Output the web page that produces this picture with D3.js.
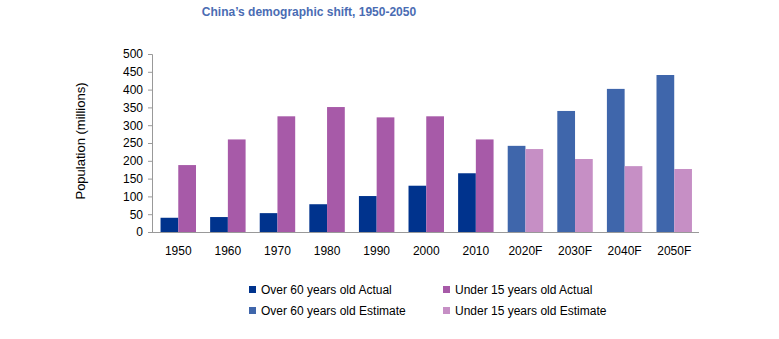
<meta charset="utf-8">
<head>
<script src="https://d3js.org/d3.v7.min.js"></script>
<style>
  body { margin: 0; background: #fff; }
  text { font-family: "Liberation Sans", Arial, sans-serif; }
</style>
</head>
<body>
<div id="container"></div>
<script>

// data
var years = ["1950","1960","1970","1980","1990","2000","2010","2020F","2030F","2040F","2050F"];
var over60 = [40, 42, 53, 78, 101, 130, 165, 242, 340, 402, 441];
var under15 = [188, 260, 325, 351, 322, 325, 260, 233, 205, 185, 177];
var isEstimate = [false, false, false, false, false, false, false, true, true, true, true];
var yTicks = [0, 50, 100, 150, 200, 250, 300, 350, 400, 450, 500];
var legendItems = ["Over 60 years old Actual", "Under 15 years old Actual",
                   "Over 60 years old Estimate", "Under 15 years old Estimate"];

var colOldAct = "#00338d", colYoungAct = "#a75aa8",
    colOldEst = "#3f66ab", colYoungEst = "#c68fc5";

var width = 779, height = 339;
var svg = d3.select('#container').append('svg')
  .attr('width', width).attr('height', height);

var x = d3.scaleBand().domain(years).range([153.5, 699]).paddingInner(0.285).paddingOuter(0.142);
var y = d3.scaleLinear().domain([0, 500]).range([232, 54]);

// title
svg.append('text')
  .attr('x', 309).attr('y', 16)
  .attr('text-anchor', 'middle')
  .style('font-size', '12px').style('font-weight', 'bold')
  .attr('fill', '#4a6cb3')
  .text("China\u2019s demographic shift, 1950-2050");

// y axis
var yAxis = svg.append('g')
  .attr('transform', 'translate(152,0)')
  .call(d3.axisLeft(y).tickValues(yTicks).tickSize(4).tickPadding(5));
yAxis.selectAll('path, line').attr('stroke', '#999');
yAxis.selectAll('text').style('font-size', '12px').attr('fill', '#000')
  .style('font-family', '"Liberation Sans", Arial, sans-serif');
yAxis.select('.domain').attr('d', 'M-4,54.5H0.5V232');

svg.append('text')
  .attr('transform', 'translate(85,141) rotate(-90)')
  .attr('text-anchor', 'middle')
  .style('font-size', '13px').attr('fill', '#000')
  .text('Population (millions)');

// bars
var bw = x.bandwidth() / 2;
var g = svg.append('g');
g.selectAll('rect.old').data(years).enter().append('rect')
  .attr('class', 'old')
  .attr('x', function(d) { return x(d); })
  .attr('y', function(d, i) { return y(over60[i]); })
  .attr('width', bw)
  .attr('height', function(d, i) { return y(0) - y(over60[i]); })
  .attr('fill', function(d, i) { return isEstimate[i] ? colOldEst : colOldAct; });
g.selectAll('rect.young').data(years).enter().append('rect')
  .attr('class', 'young')
  .attr('x', function(d) { return x(d) + bw; })
  .attr('y', function(d, i) { return y(under15[i]); })
  .attr('width', bw)
  .attr('height', function(d, i) { return y(0) - y(under15[i]); })
  .attr('fill', function(d, i) { return isEstimate[i] ? colYoungEst : colYoungAct; });

// x axis
var xAxis = svg.append('g')
  .attr('transform', 'translate(0,232)')
  .call(d3.axisBottom(x).tickSize(0).tickPadding(14));
xAxis.select('.domain').attr('stroke', '#999').attr('d', 'M152,0.5H699');
xAxis.selectAll('text').style('font-size', '12px').attr('fill', '#000')
  .style('font-family', '"Liberation Sans", Arial, sans-serif');

// legend
var legCols = [colOldAct, colYoungAct, colOldEst, colYoungEst];
var leg = svg.selectAll('g.leg').data(legendItems).enter().append('g')
  .attr('class', 'leg')
  .attr('transform', function(d, i) {
    return 'translate(' + (i % 2 ? 443 : 249) + ',' + (i < 2 ? 290 : 311) + ')';
  });
leg.append('rect').attr('x', 0).attr('y', -4).attr('width', 7).attr('height', 7)
  .attr('fill', function(d, i) { return legCols[i]; });
leg.append('text').attr('x', 12).attr('y', 4)
  .style('font-size', '12px').attr('fill', '#000')
  .text(function(d) { return d; });

</script>
</body>
